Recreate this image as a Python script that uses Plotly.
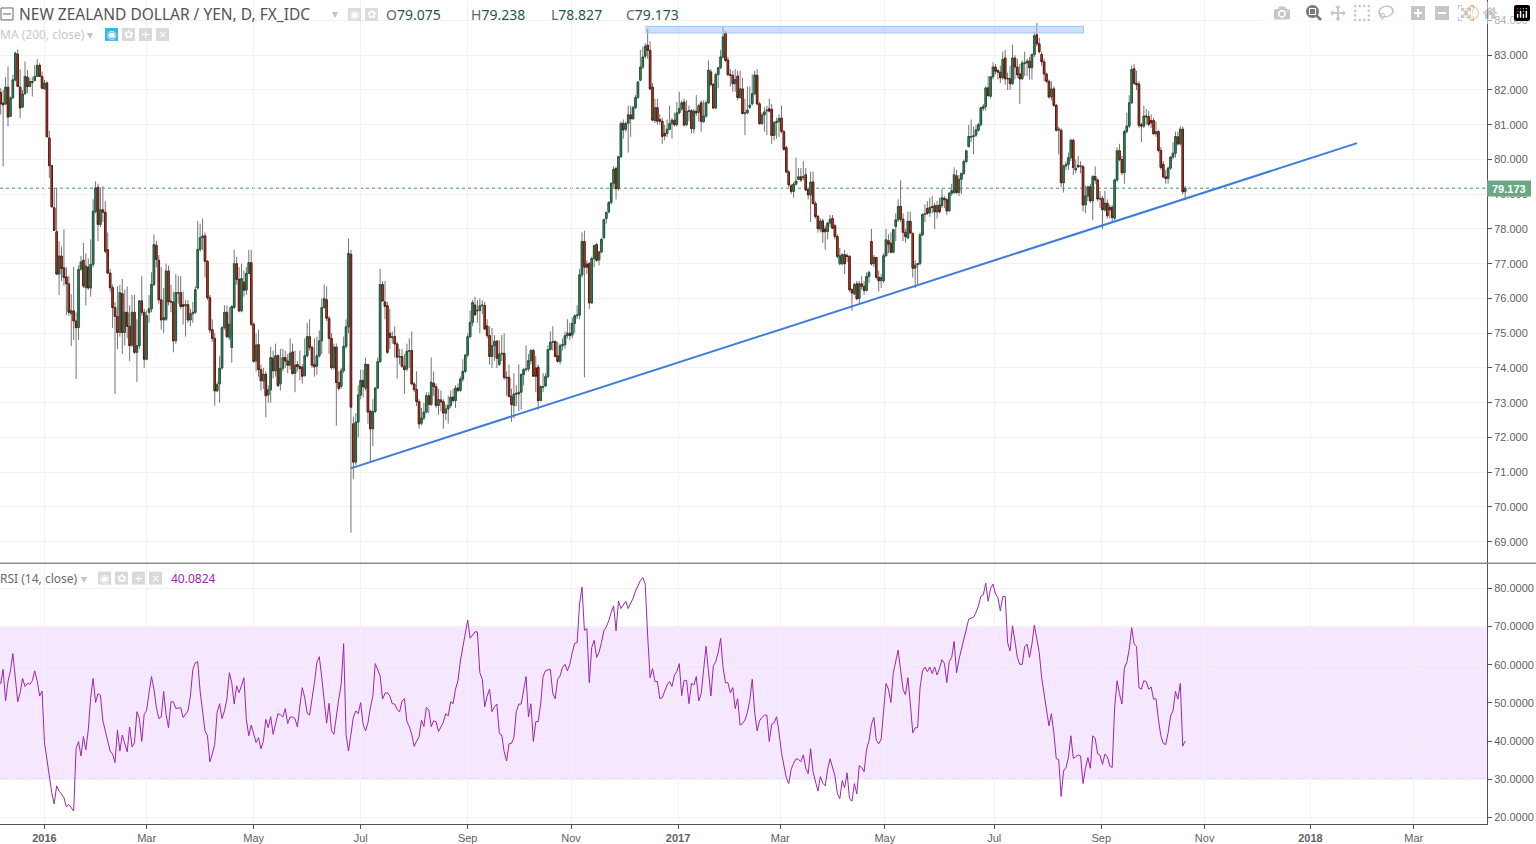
import plotly.graph_objects as go

opens = [
81.93,81.62,81.60,82.08,81.24,81.77,82.29,83.03,82.08,81.51,
81.89,82.37,82.10,82.24,82.27,82.39,82.71,82.39,82.03,82.20,
80.62,79.82,78.61,77.92,76.70,77.22,76.88,76.62,76.42,75.56,
75.64,75.35,75.16,76.84,77.10,76.31,76.90,76.30,76.98,78.50,
79.20,78.13,78.55,78.48,77.40,76.73,76.31,75.74,75.48,75.02,
76.14,75.02,75.60,75.20,74.66,75.60,74.45,74.64,75.93,75.60,
74.25,75.60,75.70,76.40,77.53,77.10,75.96,75.38,75.40,76.79,
75.92,75.90,74.78,76.15,76.17,75.82,75.79,75.82,75.38,75.56,
75.60,76.30,77.41,77.75,77.80,77.07,76.02,75.10,74.85,73.34,
73.54,74.00,75.16,75.60,74.88,74.59,75.74,77.00,76.55,75.64,
76.47,76.24,76.72,77.03,75.26,74.20,74.67,73.95,73.63,73.82,
73.22,73.37,74.28,73.92,74.35,73.54,73.99,74.30,74.20,74.08,
74.46,73.85,74.10,74.04,74.02,73.78,74.35,74.90,74.59,74.10,
74.05,74.35,74.78,75.74,75.96,75.43,74.85,74.01,74.60,73.58,
73.47,73.92,74.62,75.18,77.27,72.39,71.29,72.44,73.22,73.64,
73.42,74.10,72.75,72.25,72.75,73.42,74.18,76.40,75.90,75.79,
75.00,74.87,74.90,74.69,74.31,74.33,74.05,73.97,74.48,74.50,
73.54,73.38,73.03,72.41,72.56,72.73,73.20,72.95,73.56,73.46,
72.92,73.08,73.03,72.70,72.82,72.92,73.16,73.06,73.42,73.36,
73.68,73.90,74.37,74.90,75.31,75.81,75.64,75.65,75.79,75.80,
75.21,74.93,74.33,74.64,74.77,74.10,74.40,74.42,73.73,73.73,
73.18,72.92,73.27,73.25,73.30,73.81,73.95,73.97,74.21,74.50,
74.00,74.02,73.06,73.44,73.48,73.75,74.53,74.74,74.76,74.35,
74.19,74.64,74.67,74.93,75.00,74.95,75.28,75.50,75.52,76.68,
77.64,76.99,77.00,75.87,77.15,77.55,77.11,77.34,77.75,78.30,
78.49,78.76,79.31,79.74,79.16,80.08,81.04,80.87,81.04,81.28,
81.17,81.49,81.78,82.28,82.66,82.97,83.29,83.14,82.08,81.12,
81.49,81.15,81.10,80.75,80.75,80.87,81.03,81.13,81.00,81.34,
81.46,81.65,81.00,81.38,81.40,80.88,81.39,81.36,81.63,81.09,
81.25,81.63,82.52,82.16,81.48,82.44,82.64,82.95,83.64,82.86,
82.44,82.42,82.18,82.40,81.78,82.03,81.32,81.34,81.50,81.60,
81.89,82.42,81.60,81.03,81.28,81.40,81.46,81.44,80.69,81.06,
81.09,81.19,80.80,80.34,79.64,79.24,79.08,79.29,79.43,79.50,
79.48,79.56,79.14,78.98,79.35,78.73,78.36,78.00,78.23,78.00,
77.93,78.17,78.30,78.09,77.78,77.00,77.00,77.26,77.23,77.21,
76.25,76.13,76.42,76.00,76.42,76.35,76.23,76.63,77.64,77.00,
77.18,76.61,76.51,76.51,77.23,77.66,77.59,77.33,78.07,78.26,
78.65,78.28,77.90,77.74,78.22,77.87,76.87,77.00,77.01,77.83,
78.42,78.59,78.47,78.64,78.67,78.49,78.69,78.67,78.88,78.84,
78.52,79.03,79.05,79.53,79.05,79.43,79.60,79.94,80.37,80.64,
80.66,80.70,80.84,81.00,81.47,81.52,82.06,81.82,82.38,82.66,
82.56,82.51,82.35,82.92,82.33,82.32,82.18,82.92,82.66,82.46,
82.32,82.76,82.78,82.83,82.64,83.02,83.59,83.33,83.02,82.81,
82.46,82.25,81.80,82.03,81.56,80.84,80.84,79.33,79.81,79.86,
80.05,80.55,79.70,79.83,79.79,79.79,78.69,78.95,79.21,78.81,
79.51,79.41,78.86,78.88,78.55,78.74,78.62,78.62,78.31,79.41,
80.25,80.00,79.62,80.80,80.96,81.63,82.61,82.19,82.17,81.00,
80.96,81.25,81.23,81.12,81.12,80.74,80.80,80.26,79.86,79.50,
79.45,79.75,80.07,80.18,80.65,80.45,80.87,79.075]

closes = [
81.60,81.57,82.08,81.22,81.77,82.29,83.06,82.10,81.48,81.88,
82.39,82.10,82.24,82.22,82.39,82.71,82.39,82.05,82.20,80.65,
79.82,78.64,77.96,76.70,77.22,76.86,76.60,76.42,75.60,75.65,
75.35,75.16,76.83,77.05,76.36,76.93,76.30,76.98,78.51,79.18,
78.13,78.55,78.48,77.36,76.73,76.31,75.74,75.48,75.02,76.17,
75.02,75.60,75.20,74.64,75.60,74.45,74.64,75.93,75.60,74.25,
75.50,75.70,76.40,77.55,77.12,75.96,75.38,75.45,76.79,75.90,
75.90,74.78,76.17,76.17,75.77,75.77,75.82,75.38,75.56,75.60,
76.25,77.41,77.75,77.80,77.07,76.02,75.09,74.85,73.34,73.52,
73.99,75.16,75.60,74.90,75.26,75.77,77.00,76.55,75.64,76.57,
76.24,76.72,77.03,75.26,74.19,74.66,73.95,73.63,73.82,73.20,
73.37,74.30,73.92,74.35,73.49,73.99,74.30,74.20,74.08,74.42,
73.84,74.08,74.04,73.98,73.76,74.35,74.90,74.59,74.08,74.03,
74.35,74.78,75.74,76.00,75.43,74.85,74.01,74.60,73.58,73.41,
73.92,74.62,75.18,77.30,72.87,71.29,72.44,73.22,73.64,73.46,
74.11,72.73,72.25,72.75,73.42,74.18,76.40,75.93,75.77,74.45,
74.88,74.90,74.69,74.31,74.33,74.05,73.95,74.48,74.50,73.54,
73.38,73.03,72.39,72.56,72.73,73.20,72.95,73.59,73.46,72.92,
73.09,73.02,72.70,72.82,72.92,73.16,73.06,73.42,73.35,73.68,
73.90,74.37,74.90,75.31,75.88,75.53,75.66,75.79,75.81,75.12,
74.93,74.33,74.64,74.77,74.28,74.40,74.42,73.73,73.71,73.18,
72.95,73.25,73.25,73.30,73.81,73.95,73.97,74.21,74.50,73.76,
73.76,73.06,73.46,73.46,73.75,74.53,74.74,74.76,74.33,74.19,
74.64,74.67,74.93,75.00,74.93,75.28,75.50,75.52,76.68,77.64,
76.90,76.90,75.87,77.15,77.52,77.10,77.34,77.70,78.27,78.47,
78.76,79.31,79.72,79.16,80.08,81.03,80.85,81.03,81.29,81.17,
81.49,81.78,82.23,82.66,82.95,83.26,83.14,82.03,81.13,81.49,
81.10,81.10,80.66,80.68,80.87,81.03,81.13,81.00,81.34,81.46,
81.63,80.99,81.39,81.40,80.89,81.39,81.34,81.55,81.09,81.25,
81.63,82.57,82.16,81.48,82.44,82.64,82.95,83.53,82.85,82.44,
82.42,82.18,82.30,81.78,82.03,81.32,81.34,81.42,81.56,81.89,
82.43,81.60,81.03,81.28,81.37,81.42,81.39,80.69,81.06,81.09,
81.18,80.81,80.29,79.64,79.27,79.08,79.29,79.38,79.50,79.41,
79.50,79.12,78.98,79.35,78.73,78.36,78.01,78.23,77.92,77.92,
78.17,78.28,78.02,77.78,77.21,77.23,77.26,77.00,77.21,76.25,
76.16,76.40,75.99,76.42,76.35,76.23,76.63,76.75,76.99,77.18,
76.61,76.51,76.60,77.23,77.69,77.56,77.33,77.98,78.26,78.65,
78.28,77.90,77.78,78.22,77.88,76.87,76.96,76.98,77.83,78.42,
78.44,78.45,78.62,78.62,78.49,78.67,78.49,78.90,78.84,78.52,
79.03,79.10,79.56,79.05,79.43,79.60,79.94,80.25,80.66,80.66,
80.68,80.85,81.00,81.49,81.52,82.06,81.84,82.38,82.66,82.54,
82.51,82.35,82.88,82.32,82.32,82.18,82.92,82.66,82.44,82.32,
82.78,82.78,82.83,82.64,83.02,83.56,83.33,83.10,82.81,82.46,
82.25,81.80,82.03,81.56,80.84,80.87,79.33,79.81,79.86,80.05,
80.55,79.77,79.75,79.79,79.81,78.69,78.95,79.21,78.81,79.51,
79.41,78.86,78.88,78.55,78.74,78.38,78.55,78.33,79.41,80.25,
80.00,79.62,80.80,80.96,81.63,82.59,82.19,82.15,80.98,80.96,
81.25,81.23,81.01,81.05,80.74,80.80,80.26,79.77,79.50,79.45,
79.75,80.07,80.18,80.66,80.45,80.87,79.07,79.173]

highs = [
82.05,82.00,82.37,82.68,81.81,82.44,83.10,83.17,82.60,82.00,
82.82,82.58,82.34,82.37,82.72,82.89,82.77,82.53,82.29,82.25,
80.83,79.85,79.18,79.18,77.65,77.50,77.99,76.90,76.65,76.12,
76.91,75.60,76.95,77.22,77.60,77.30,77.15,77.70,78.85,79.37,
79.30,79.20,79.23,78.80,77.90,76.85,76.40,75.90,76.35,76.39,
76.56,76.25,76.35,75.80,76.10,76.10,75.40,75.95,76.64,75.70,
75.65,76.10,76.75,77.84,77.65,77.25,76.90,76.30,77.00,76.95,
76.40,76.20,76.70,76.65,76.65,76.20,75.95,75.95,75.70,75.90,
76.35,78.23,78.15,78.30,77.90,77.10,76.10,75.40,75.00,73.60,
74.35,75.20,75.80,75.80,75.75,75.80,77.40,77.20,76.90,77.00,
76.80,76.90,77.40,77.40,75.30,75.00,75.10,74.10,74.00,73.90,
73.50,74.60,74.50,74.70,74.40,74.55,74.55,74.50,74.40,74.85,
74.70,74.50,74.20,74.50,74.10,74.85,75.30,75.40,74.65,74.85,
74.90,75.08,76.00,76.40,76.35,75.50,75.00,74.70,74.70,73.90,
74.00,74.90,75.40,77.72,77.40,72.60,72.70,73.50,73.95,73.95,
74.30,74.10,72.80,73.10,73.45,74.30,76.85,76.50,76.50,75.90,
75.70,75.05,75.20,74.75,74.55,74.55,74.40,74.70,74.85,75.05,
73.60,73.90,73.10,72.85,73.00,73.30,73.30,74.30,73.90,73.55,
73.40,73.35,73.10,72.95,73.20,73.35,73.40,73.50,73.55,73.75,
74.25,74.40,75.00,75.65,75.95,76.05,75.95,76.00,75.95,75.90,
75.40,75.20,75.15,74.95,74.80,74.80,74.95,75.00,73.90,74.10,
73.40,73.85,73.50,74.10,73.85,74.00,74.65,74.40,74.55,74.55,
74.35,74.10,73.50,73.85,73.85,74.65,75.05,75.20,74.80,74.75,
74.70,74.85,75.05,75.40,75.30,75.45,75.55,75.80,76.85,77.90,
77.95,77.10,77.05,77.20,77.55,77.60,77.35,77.75,78.30,78.50,
78.80,79.35,79.80,79.80,80.10,81.10,81.15,81.10,81.55,81.55,
81.55,81.85,82.25,83.15,83.25,83.35,83.76,83.40,82.20,81.75,
81.75,81.30,81.20,81.00,81.15,81.55,81.20,81.35,81.65,81.95,
81.70,81.75,81.70,81.55,81.45,81.45,81.85,81.60,81.70,81.70,
81.70,82.85,82.60,82.20,82.50,82.65,83.15,83.83,83.70,82.95,
82.60,82.55,82.60,82.55,82.55,82.35,81.75,82.10,82.10,82.45,
82.55,82.60,81.65,81.35,81.50,81.55,81.75,81.60,81.10,81.20,
81.30,81.55,80.85,80.40,79.70,79.30,79.35,80.05,79.75,79.75,
79.95,79.75,79.20,79.65,79.65,78.80,78.40,78.30,78.30,78.10,
78.20,78.40,78.40,78.15,77.85,77.45,77.30,77.40,77.30,77.25,
76.30,76.45,76.50,76.50,76.65,76.50,76.75,76.80,78.00,77.25,
77.20,76.80,76.70,77.30,78.00,77.85,77.90,78.00,78.45,78.85,
79.40,78.45,78.00,78.50,78.50,77.90,77.10,77.00,77.90,78.45,
78.70,78.80,78.90,78.95,78.75,78.80,78.90,79.15,78.95,78.90,
79.05,79.30,79.77,79.70,79.55,79.60,80.00,80.27,81.00,81.15,
80.95,81.00,81.05,81.50,81.60,82.10,82.40,82.40,82.80,82.75,
82.60,82.70,83.10,83.15,82.50,82.70,83.30,83.00,82.90,82.75,
82.85,83.10,82.90,82.95,83.05,83.65,83.93,83.50,83.10,82.90,
82.50,82.30,82.25,82.10,81.60,80.95,80.90,79.85,79.95,80.20,
80.60,80.60,80.00,80.10,79.95,79.85,79.25,79.25,79.30,79.55,
79.80,79.45,79.10,78.95,79.10,78.85,78.70,78.70,79.45,80.35,
80.45,80.10,80.85,81.35,81.85,82.70,82.75,82.55,82.25,81.05,
81.55,81.45,81.40,81.30,81.20,81.10,80.85,80.35,79.95,79.70,
79.80,80.10,80.50,80.80,80.80,80.95,80.95,79.238]

lows = [
81.29,79.80,81.57,80.95,81.22,81.76,82.24,82.08,81.19,81.48,
81.86,81.91,82.08,81.81,82.26,82.37,82.37,82.03,82.00,80.64,
79.47,78.60,77.94,76.69,76.10,76.50,76.36,75.52,75.50,74.63,
74.80,73.68,74.80,76.80,76.30,75.80,76.25,76.05,76.90,78.45,
77.65,78.05,78.20,77.30,76.70,76.20,75.15,73.25,74.54,74.90,
74.40,74.65,74.85,74.20,74.60,74.40,73.60,74.55,75.50,74.00,
74.22,75.30,75.60,76.35,76.90,75.85,75.10,75.00,75.35,75.80,
75.60,74.45,74.70,75.85,75.70,75.25,74.90,75.30,75.20,75.30,
75.55,76.25,77.35,77.40,76.60,75.95,75.00,74.75,72.91,73.30,
73.00,73.95,75.10,74.85,74.80,74.15,75.70,76.40,75.60,75.60,
76.05,76.10,76.70,75.20,74.15,73.90,73.75,73.35,73.40,72.58,
73.00,73.00,73.70,73.75,73.45,73.35,73.90,74.00,73.85,73.95,
73.80,73.30,73.90,73.65,73.55,73.75,74.30,74.50,74.00,73.75,
73.80,74.30,74.40,75.70,75.35,74.40,73.95,73.95,72.34,73.35,
73.40,73.85,74.55,75.00,69.26,70.80,71.20,72.00,73.10,73.15,
73.35,72.40,71.30,71.75,72.70,73.40,74.15,75.90,75.40,74.40,
74.55,74.70,74.30,73.70,74.10,74.00,73.25,73.90,74.00,73.50,
73.30,72.90,72.25,72.35,72.50,72.70,72.70,72.90,73.20,72.85,
72.65,72.75,72.25,72.50,72.40,72.85,73.00,72.85,73.30,73.30,
73.60,73.85,74.30,74.85,75.20,75.50,75.30,75.00,75.55,75.10,
74.85,74.10,74.00,74.20,74.00,74.05,74.20,73.65,73.20,73.15,
72.45,72.55,72.90,72.75,72.80,73.50,73.90,73.90,74.10,73.75,
73.30,72.80,73.05,73.30,73.45,73.70,74.50,74.50,74.30,74.15,
74.10,74.50,74.55,74.85,74.80,74.85,75.00,75.40,75.40,76.60,
73.73,76.70,75.70,75.85,76.90,77.05,76.95,77.30,77.70,78.15,
78.45,78.70,79.20,78.85,79.10,80.05,80.60,80.80,80.20,80.65,
81.15,81.45,81.75,82.25,82.60,82.90,82.90,82.00,81.10,81.05,
81.00,81.00,80.45,80.55,80.65,80.85,80.60,80.95,80.95,81.30,
81.40,80.95,80.95,81.10,80.75,80.75,81.25,81.10,80.80,81.05,
81.20,81.60,82.10,81.45,81.45,82.05,82.60,82.90,82.80,82.40,
82.10,81.95,81.95,81.70,81.75,81.30,80.70,81.30,81.45,81.55,
81.85,81.55,81.00,81.00,80.80,80.70,81.35,80.45,80.55,80.60,
80.65,80.75,80.25,79.60,79.20,79.00,78.90,79.25,79.40,79.35,
79.40,79.10,78.85,78.20,78.70,78.30,77.90,77.90,77.60,77.40,
77.70,78.05,78.00,77.70,77.15,76.95,76.95,76.70,77.05,76.20,
75.65,76.10,75.95,75.85,76.25,76.10,76.20,76.45,76.95,76.90,
76.55,76.20,76.30,76.45,77.20,77.30,77.30,77.30,77.65,78.20,
78.20,77.65,77.60,77.70,77.85,76.60,76.30,76.40,76.95,77.80,
78.20,78.40,78.35,78.45,78.00,78.30,78.45,78.60,78.60,78.40,
78.50,78.95,79.00,79.00,78.95,79.00,79.55,79.90,80.35,80.50,
80.15,80.65,80.80,80.95,81.40,81.40,81.80,81.75,82.30,82.45,
82.30,82.20,82.30,82.15,82.00,82.00,82.15,82.30,82.35,81.60,
82.30,82.40,82.40,82.30,82.30,82.95,83.25,83.05,82.70,82.25,
82.20,81.75,81.70,81.50,80.80,80.15,79.20,79.05,79.70,79.70,
79.95,79.55,79.60,79.75,79.60,78.50,78.45,78.80,78.75,78.25,
79.30,78.80,78.60,78.00,78.50,78.30,78.30,78.20,78.25,79.35,
79.95,79.55,79.30,80.75,80.90,81.60,82.15,82.00,80.90,80.50,
80.90,81.00,80.95,80.90,80.70,80.65,80.20,79.70,79.45,79.30,
79.30,79.70,80.00,80.05,80.40,80.40,79.00,78.827]

rsi_values = [
56.2,55.1,58.8,50.5,55.6,58.4,62.9,56.2,50.3,52.7,56.4,54.3,55.1,54.9,55.8,58.4,55.8,51.8,53.1,39.6,
34.8,30.0,26.5,23.6,28.3,26.9,26.2,25.2,22.8,23.4,22.6,21.7,38.1,39.9,36.1,41.2,37.7,42.9,51.4,56.4,
50.1,52.4,52.0,45.3,42.7,40.0,37.4,36.6,34.4,42.9,37.4,41.6,39.6,37.2,43.7,38.5,39.6,47.7,46.0,39.9,
47.0,48.1,52.7,56.9,53.6,48.8,45.9,46.3,53.0,47.0,43.5,50.3,50.3,48.6,48.6,48.8,46.2,47.2,47.9,51.8,
58.8,60.5,60.8,53.1,47.9,42.7,41.4,34.6,36.6,39.2,47.6,49.8,45.9,47.9,51.0,57.9,55.3,49.7,54.5,52.7,
54.5,56.6,45.7,41.4,44.2,41.8,39.6,40.9,38.0,40.0,45.7,43.5,46.4,41.8,44.8,47.2,46.9,46.3,48.5,44.6,
46.3,46.3,45.9,43.7,49.2,54.0,51.4,47.3,46.8,50.5,55.3,60.6,62.1,56.6,51.4,44.7,49.9,42.7,41.8,47.0,
51.0,54.9,65.5,41.8,37.4,41.8,46.3,47.9,47.2,50.1,44.4,42.7,44.8,48.8,51.8,60.3,58.4,57.1,51.0,52.5,
52.7,51.8,49.8,49.7,48.3,
47.6,50.5,51.1,45.1,43.8,41.8,38.6,40.0,41.1,45.5,43.8,48.8,48.2,43.8,45.3,45.1,42.5,43.7,45.0,47.2,
46.6,50.3,49.8,53.6,55.8,61.0,64.5,68.0,71.7,66.9,67.8,68.6,68.6,57.9,56.2,49.0,51.8,53.6,47.7,49.0,
49.7,42.0,41.6,37.2,34.8,39.3,39.4,40.9,47.7,49.7,49.7,53.1,56.9,46.3,49.8,39.9,45.1,45.1,49.7,56.9,
58.4,58.7,58.7,52.5,51.1,56.2,57.1,59.3,60.1,58.4,60.1,63.2,65.6,65.8,75.9,80.3,69.0,69.5,55.3,64.5,
66.4,61.9,63.2,65.8,68.9,69.9,71.5,73.7,75.4,68.9,76.7,74.7,75.7,76.6,74.7,76.0,77.4,79.3,80.9,82.0,
82.8,81.1,67.6,56.6,59.0,55.6,55.6,51.1,51.4,53.0,54.7,55.6,54.3,57.3,58.2,60.3,51.9,55.9,55.9,49.8,
55.1,54.7,56.9,50.5,52.4,58.6,64.8,58.4,51.8,59.7,60.8,63.2,66.9,59.3,55.3,55.3,52.7,54.0,48.5,51.1,
44.2,44.6,45.5,47.5,50.7,56.2,47.5,42.7,45.3,46.2,46.8,46.8,39.9,44.4,44.8,46.4,42.4,37.0,33.1,30.4,
28.9,32.6,34.2,35.4,
35.2,34.6,36.4,32.9,31.5,38.0,32.0,29.8,26.9,30.7,29.0,28.3,32.6,35.4,33.3,30.9,26.3,24.9,29.7,27.8,
31.7,24.9,24.3,28.9,26.2,33.6,33.1,32.0,37.9,40.0,44.4,46.2,40.2,39.3,40.5,47.9,55.1,53.6,50.1,57.9,
60.6,63.8,58.6,53.6,52.1,56.6,49.7,42.2,43.5,43.5,54.0,58.4,59.4,58.2,59.4,57.7,59.4,57.3,59.1,61.3,
60.4,55.3,60.8,61.9,66.1,57.9,61.4,64.1,66.2,69.3,71.9,72.2,72.4,73.7,75.4,77.9,78.3,81.3,76.6,80.0,
81.1,78.5,77.6,74.1,77.8,77.9,65.8,63.6,70.2,66.2,61.9,60.1,60.1,64.7,65.4,61.9,65.4,70.4,67.1,63.2,
56.6,52.3,49.2,44.0,47.2,42.2,35.4,35.2,25.5,32.2,33.1,35.7,41.4,35.5,35.9,36.4,36.1,28.9,32.9,35.7,
32.9,41.4,40.7,36.7,36.3,33.9,36.6,35.9,33.5,33.1,48.8,55.8,52.4,49.7,59.1,60.6,64.1,69.7,65.4,64.8,
54.0,53.6,55.8,55.6,53.6,54.2,51.0,51.1,45.7,41.4,39.4,39.1,42.2,46.6,47.9,53.0,51.0,55.1,38.7,40.08]

tick_positions = [18, 60, 104, 148, 192, 234.5, 278.5, 320.5, 363.5, 408.5, 452.5, 495, 538.5, 581]
tick_labels = ["<b>2016</b>", "Mar", "May", "Jul", "Sep", "Nov", "<b>2017</b>", "Mar", "May", "Jul", "Sep", "Nov", "<b>2018</b>", "Mar"]
price_ticks = list(range(69, 85))
rsi_ticks = [20, 30, 40, 50, 60, 70, 80]
trend_x = [143.9, 557.7]
trend_y = [71.11, 80.47]
resistance_x = [265.3, 445.2]
resistance_y = [83.64, 83.83]
last_price = 79.173
rsi_bands = [30, 70]

n = len(closes)
if not (len(opens) == len(highs) == len(lows) == n):
    raise SystemExit(f"lengths {len(opens)} {len(highs)} {len(lows)} {n}")
bars = list(range(n))
rsi_x = list(range(n - len(rsi_values), n))
x_range = [-0.29, 611.1]
print(n, len(rsi_values))

W, H = 1536, 844
def px(v): return v / W
def py(v): return 1 - v / H

GRID = "#f2f2f2"
AXIS = "#535353"
fig = go.Figure()
fig.add_trace(go.Candlestick(
    x=bars, open=opens, high=highs, low=lows, close=closes, xaxis="x2", yaxis="y",
    whiskerwidth=0, showlegend=False, hoverinfo="skip",
    increasing=dict(line=dict(color="#757575", width=1), fillcolor="#757575"),
    decreasing=dict(line=dict(color="#757575", width=1), fillcolor="#757575")))
fig.add_trace(go.Candlestick(
    x=bars, open=opens, close=closes,
    high=[max(a, b) for a, b in zip(opens, closes)],
    low=[min(a, b) for a, b in zip(opens, closes)], xaxis="x2", yaxis="y",
    whiskerwidth=0, showlegend=False,
    increasing=dict(line=dict(color="#1f5a3c", width=1), fillcolor="#3f9068"),
    decreasing=dict(line=dict(color="#5c1c12", width=1), fillcolor="#d9412b")))
fig.add_trace(go.Scatter(x=trend_x, y=trend_y, mode="lines", xaxis="x2", yaxis="y",
                         line=dict(color="#3d7bdc", width=2), showlegend=False))
fig.add_trace(go.Scatter(x=rsi_x, y=rsi_values, mode="lines", xaxis="x", yaxis="y2",
                         line=dict(color="#9c27b0", width=1), showlegend=False))

shapes = [
    dict(type="rect", xref="x2", yref="y", x0=resistance_x[0], x1=resistance_x[1],
         y0=resistance_y[0], y1=resistance_y[1], fillcolor="rgba(150,195,245,0.5)",
         line=dict(color="#9fc5f5", width=1), layer="above"),
    dict(type="line", xref="x2 domain", yref="y", x0=0, x1=1, y0=last_price, y1=last_price,
         line=dict(color="#3f9068", width=1, dash="dot"), layer="below"),
    dict(type="rect", xref="x domain", yref="y2", x0=0, x1=1, y0=rsi_bands[0], y1=rsi_bands[1],
         fillcolor="rgba(153,21,255,0.1)", line=dict(width=0), layer="below"),
    dict(type="line", xref="x domain", yref="y2", x0=0, x1=1, y0=rsi_bands[0], y1=rsi_bands[0],
         line=dict(color="#b5a5bb", width=1, dash="dash"), layer="below"),
    dict(type="line", xref="x domain", yref="y2", x0=0, x1=1, y0=rsi_bands[1], y1=rsi_bands[1],
         line=dict(color="#b5a5bb", width=1, dash="dash"), layer="below"),
    dict(type="line", xref="paper", yref="paper", x0=0, x1=1, y0=py(564.5), y1=py(564.5),
         line=dict(color=AXIS, width=1)),
    dict(type="rect", xref="paper", yref="paper", x0=px(1487), x1=px(1531), y0=py(197), y1=py(181),
         fillcolor="#6aa784", line=dict(width=0)),
    dict(type="circle", xref="paper", yref="paper", x0=px(1465.5), x1=px(1478.5), y0=py(19.5), y1=py(6.5),
         line=dict(color="#f7a35c", width=1.5)),
    dict(type="rect", xref="paper", yref="paper", x0=px(1), x1=px(13), y0=py(20), y1=py(8),
         line=dict(color="#666", width=1)),
    dict(type="line", xref="paper", yref="paper", x0=px(3), x1=px(11), y0=py(14), y1=py(14),
         line=dict(color="#666", width=1)),
]

annotations = []
def label(x, y, text, size=11, color="#535353", family="Noto Sans", anchor="left"):
    annotations.append(dict(xref="paper", yref="paper", x=px(x), y=py(y), text=text, showarrow=False,
                            xanchor=anchor, yanchor="middle", font=dict(size=size, color=color, family=family),
                            xshift=0, yshift=0, borderpad=0, borderwidth=0))

def icon(x0, y0, glyph, fill="#d9d9d9"):
    shapes.append(dict(type="rect", xref="paper", yref="paper", x0=px(x0), x1=px(x0 + 13), y0=py(y0 + 13), y1=py(y0),
                       fillcolor=fill, line=dict(width=0)))
    label(x0 + 6.5, y0 + 6.5, glyph, size=11, color="#ffffff", family="DejaVu Sans", anchor="center")

def caret(x, y, color="#c4c4c4"):
    label(x, y, "▾", size=12, color=color, family="DejaVu Sans", anchor="center")

label(19, 14, "NEW ZEALAND DOLLAR / YEN, D, FX_IDC", size=15.5, color="#535353")
caret(335, 14)
icon(348, 8, "◉", "#dcdcdc")
icon(365, 8, "✿", "#dcdcdc")
DG = "#1f5a3c"
label(386, 14.5, f"O<span style='color:{DG}'>79.075</span>", size=14, color="#666")
label(471, 14.5, f"H<span style='color:{DG}'>79.238</span>", size=14, color="#666")
label(551, 14.5, f"L<span style='color:{DG}'>78.827</span>", size=14, color="#666")
label(626, 14.5, f"C<span style='color:{DG}'>79.173</span>", size=14, color="#666")
label(0, 35, "MA (200, close)", size=12, color="#c8c8c8")
caret(90, 35)
icon(105, 28, "◉", "#3db5e6")
icon(122, 28, "✿")
icon(139, 28, "+")
icon(156, 28, "×")
label(0, 580, "RSI (14, close)", size=12, color="#6a6a6a")
caret(84, 580)
icon(98, 573, "◉")
icon(115, 573, "✿")
icon(132, 573, "+")
icon(149, 573, "×")
label(171, 580, "40.0824", size=12, color="#9c27b0")
label(1509, 189, "<b>79.173</b>", size=11, color="#ffffff", family="Liberation Sans", anchor="center")
label(1472, 13, "!", size=11, color="#f7a35c", family="Liberation Sans", anchor="center")

axis_font = dict(size=11, color="#5f5f5f", family="Liberation Sans")
x_domain = [0, px(1487)]
fig.update_layout(
    width=W, height=H, margin=dict(l=0, r=0, t=0, b=0), paper_bgcolor="white", plot_bgcolor="white",
    showlegend=False, boxgap=0.12, hovermode=False, shapes=shapes, annotations=annotations,
    xaxis=dict(domain=x_domain, anchor="y2", range=x_range, tickmode="array", tickvals=tick_positions,
               ticktext=tick_labels, showgrid=True, gridcolor=GRID, gridwidth=1, zeroline=False,
               ticks="outside", ticklen=4, tickcolor=AXIS, showline=True, linecolor=AXIS, linewidth=1,
               tickfont=axis_font, rangeslider=dict(visible=False)),
    xaxis2=dict(domain=x_domain, anchor="y", matches="x", tickmode="array", tickvals=tick_positions,
                showticklabels=False, showgrid=True, gridcolor=GRID, gridwidth=1, zeroline=False,
                ticks="", rangeslider=dict(visible=False)),
    yaxis=dict(domain=[py(564), 1], anchor="x2", side="right", range=[68.396, 84.589], tickmode="array",
               tickvals=price_ticks, tickformat=".3f", showgrid=True, gridcolor=GRID, zeroline=False,
               ticks="outside", ticklen=4, tickcolor=AXIS, showline=True, linecolor=AXIS, linewidth=1,
               tickfont=axis_font),
    yaxis2=dict(domain=[py(826), py(565)], anchor="x", side="right", range=[18.3, 86.45], tickmode="array",
                tickvals=rsi_ticks, tickformat=".4f", showgrid=True, gridcolor=GRID, zeroline=False,
                ticks="outside", ticklen=4, tickcolor=AXIS, showline=True, linecolor=AXIS, linewidth=1,
                tickfont=axis_font),
)
fig.write_html("out.html", post_script="document.body.style.margin='0';document.documentElement.style.overflow='hidden';")
